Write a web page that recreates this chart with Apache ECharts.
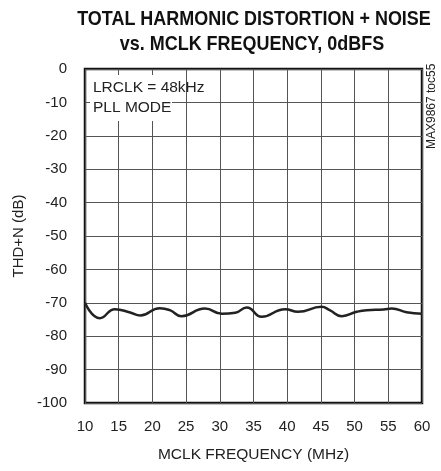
<!DOCTYPE html>
<html>
<head>
<meta charset="utf-8">
<script src="https://cdn.jsdelivr.net/npm/echarts@6/dist/echarts.min.js"></script>
<style>
html,body{margin:0;padding:0;background:#fff;}
#c{width:441px;height:471px;}
</style>
</head>
<body>
<div id="c"></div>
<script>
var freqMHz = [10, 12.2, 14.45, 16.7, 18.2, 21.1, 22.6, 24.3, 27.8, 30.3, 32.3, 34.0, 36.2, 39.7, 41.6, 45.1, 46.3, 48.1, 50.3, 51.8, 54.3, 55.5, 57.7, 60];
var thdN = [-70, -74.6, -71.9, -72.9, -73.8, -71.6, -72.2, -74.0, -71.7, -73.3, -73.0, -71.4, -74.2, -71.9, -72.7, -71.2, -72.2, -74.0, -72.7, -72.2, -72.0, -71.7, -72.8, -73.3];
var xTicks = [10, 15, 20, 25, 30, 35, 40, 45, 50, 55, 60];
var yTicks = [0, -10, -20, -30, -40, -50, -60, -70, -80, -90, -100];
var titleLines = ['TOTAL HARMONIC DISTORTION + NOISE', 'vs. MCLK FREQUENCY, 0dBFS'];
var notes = ['LRCLK = 48kHz', 'PLL MODE'];

var FONT = '"Liberation Sans", Arial, sans-serif';
var chart = echarts.init(document.getElementById('c'), null, {renderer: 'canvas'});
var data = freqMHz.map(function (f, i) { return [f, thdN[i]]; });

chart.setOption({
  animation: false,
  backgroundColor: '#fff',
  grid: {left: 85, right: 19, top: 69, bottom: 68, show: true, borderColor: '#111', borderWidth: 2.5, backgroundColor: 'transparent'},
  graphic: [
    {type: 'text', z: 10, x: 254, y: 19, scaleX: 0.855, style: {text: titleLines[0], fill: '#111', font: 'bold 21px ' + FONT, textAlign: 'center', textVerticalAlign: 'middle'}},
    {type: 'text', z: 10, x: 252, y: 44, scaleX: 0.855, style: {text: titleLines[1], fill: '#111', font: 'bold 21px ' + FONT, textAlign: 'center', textVerticalAlign: 'middle'}},
    {type: 'rect', z: 50, shape: {x: 90, y: 75, width: 82, height: 46}, style: {fill: '#fff'}},
    {type: 'text', z: 51, x: 93, y: 88, style: {text: notes[0], fill: '#222', font: '15.5px ' + FONT, textVerticalAlign: 'middle'}},
    {type: 'text', z: 51, x: 93, y: 108, style: {text: notes[1], fill: '#222', font: '15.5px ' + FONT, textVerticalAlign: 'middle'}},
    {type: 'text', z: 10, x: 426, y: 149, rotation: Math.PI / 2, style: {text: 'MAX9867 toc55', fill: '#222', font: '12px ' + FONT}}
  ],
  xAxis: {
    type: 'value', min: 10, max: 60, interval: 5,
    name: 'MCLK FREQUENCY (MHz)', nameLocation: 'middle', nameGap: 44,
    nameTextStyle: {fontFamily: FONT, fontSize: 15.5, color: '#222'},
    axisLine: {show: false},
    axisTick: {show: false},
    axisLabel: {margin: 16, fontFamily: FONT, fontSize: 15, color: '#222',
      formatter: function (v) { return xTicks.indexOf(v) >= 0 ? String(v) : ''; }},
    splitLine: {show: true, lineStyle: {color: '#555', width: 1}}
  },
  yAxis: {
    type: 'value', min: -100, max: 0, interval: 10,
    name: 'THD+N (dB)', nameLocation: 'middle', nameGap: 53, nameRotate: 90,
    nameTextStyle: {fontFamily: FONT, fontSize: 15, color: '#222'},
    axisLine: {show: false},
    axisTick: {show: false},
    axisLabel: {margin: 18, fontFamily: FONT, fontSize: 15, color: '#222',
      formatter: function (v) { return yTicks.indexOf(v) >= 0 ? String(v) : ''; }},
    splitLine: {show: true, lineStyle: {color: '#555', width: 1}}
  },
  series: [{
    type: 'line', data: data, smooth: 0.5, showSymbol: false,
    lineStyle: {color: '#222', width: 2.5}, z: 5
  }]
});
</script>
</body>
</html>
